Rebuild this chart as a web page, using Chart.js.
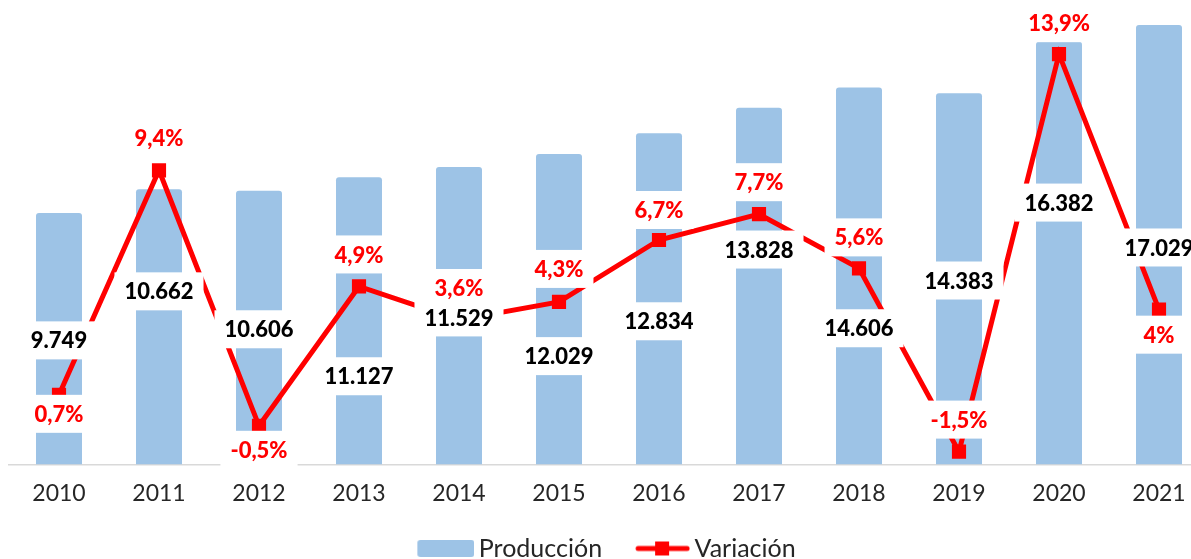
<!DOCTYPE html>
<html>
<head>
<meta charset="utf-8">
<script src="https://cdn.jsdelivr.net/npm/chart.js@4.4.1/dist/chart.umd.min.js"></script>
<style>
  html, body { margin: 0; padding: 0; background: #fff; overflow: hidden; }
  /* canvas is a bit wider than the window: the last category is cut off like in the source */
  #chart { position: absolute; left: 0; top: 0; }
</style>
</head>
<body>
<canvas id="chart" width="1212" height="559"></canvas>
<script>
const years = ['2010', '2011', '2012', '2013', '2014', '2015', '2016', '2017', '2018', '2019', '2020', '2021'];
const produccion = [9749, 10662, 10606, 11127, 11529, 12029, 12834, 13828, 14606, 14383, 16382, 17029];
const variacion = [0.7, 9.4, -0.5, 4.9, 3.6, 4.3, 6.7, 7.7, 5.6, -1.5, 13.9, 4];

// label placement: bar labels in Producción units, line labels as px offset from the point
const barLabelAt = [4810, 6710, 5240, 3420, 5700, 4200, 5550, 8330, 5280, 7130, 10150, 8410];
const lineLabelDy = [19, -32, 24, -32, -32, -33, -30, -32, -31, -32, -31, 25];

const BLUE = '#9DC3E6';
const RED = '#FF0000';
const TEXT = '#262626';

const fmtNum = v => v.toLocaleString('de-DE');
const fmtPct = v => String(v).replace('.', ',') + '%';

function drawBox(ctx, text, x, y, color) {
  const w = ctx.measureText(text).width + 20;
  const h = 38;
  ctx.fillStyle = '#fff';
  ctx.fillRect(x - w / 2, y - h / 2, w, h);
  ctx.fillStyle = color;
  ctx.fillText(text, x, y + 1);
}

const valueBoxes = {
  id: 'valueBoxes',
  beforeDraw(chart) {
    // nudge the legend row left a little
    chart.legend.left -= 18;
    chart.legend.right -= 18;
  },
  afterDatasetsDraw(chart) {
    const ctx = chart.ctx;
    const yLeft = chart.scales.y;
    ctx.save();
    ctx.font = '900 22px Lato';
    ctx.textAlign = 'center';
    ctx.textBaseline = 'middle';
    chart.getDatasetMeta(0).data.forEach((bar, i) => {
      drawBox(ctx, fmtNum(produccion[i]), bar.x, yLeft.getPixelForValue(barLabelAt[i]), '#000');
    });
    chart.getDatasetMeta(1).data.forEach((pt, i) => {
      drawBox(ctx, fmtPct(variacion[i]), pt.x, pt.y + lineLabelDy[i], RED);
    });
    ctx.restore();
  }
};

// legend icons, drawn at the right end of a wider transparent canvas
const ICON_W = 96;
function barIcon() {
  const c = document.createElement('canvas');
  c.width = ICON_W; c.height = 17;
  const g = c.getContext('2d');
  g.fillStyle = BLUE;
  g.beginPath();
  g.roundRect(ICON_W - 57, 0, 57, 17, 3);
  g.fill();
  return c;
}
function lineIcon() {
  const c = document.createElement('canvas');
  c.width = ICON_W; c.height = 16;
  const g = c.getContext('2d');
  const x0 = ICON_W - 55;
  g.strokeStyle = RED;
  g.lineWidth = 5;
  g.lineCap = 'round';
  g.beginPath();
  g.moveTo(x0 + 3, 8);
  g.lineTo(ICON_W - 3, 8);
  g.stroke();
  g.fillStyle = RED;
  g.fillRect(x0 + 20, 1, 14, 14);
  return c;
}
const icons = [barIcon(), lineIcon()];

new Chart(document.getElementById('chart'), {
  data: {
    labels: years,
    datasets: [
      {
        type: 'bar',
        label: 'Producción',
        data: produccion,
        backgroundColor: BLUE,
        barPercentage: 0.46,
        categoryPercentage: 1,
        borderRadius: 3,
        yAxisID: 'y',
        order: 1
      },
      {
        type: 'line',
        label: 'Variación',
        data: variacion,
        borderColor: RED,
        borderWidth: 5,
        pointStyle: 'rect',
        pointRadius: 10,
        pointBackgroundColor: RED,
        pointBorderWidth: 0,
        tension: 0,
        yAxisID: 'y1',
        order: 0
      }
    ]
  },
  options: {
    responsive: false,
    animation: false,
    layout: { autoPadding: false, padding: { left: 9, right: 3, top: 0, bottom: -12 } },
    scales: {
      x: {
        grid: { display: false, drawTicks: false },
        border: { color: '#D9D9D9', width: 1.5 },
        ticks: { color: TEXT, padding: 15, font: { family: 'Lato', size: 23 } },
        afterFit: scale => { scale.height = 71.5; }
      },
      y: { display: false, min: 0, max: 18000 },
      y1: { display: false, min: -2, max: 16 }
    },
    plugins: {
      tooltip: { enabled: false },
      legend: {
        position: 'bottom',
        labels: {
          usePointStyle: true,
          pointStyleWidth: 80,
          padding: 0,
          color: TEXT,
          font: { family: 'Lato', size: 25 },
          generateLabels: chart => chart.data.datasets.map((ds, i) => ({
            text: ds.label,
            pointStyle: icons[i],
            datasetIndex: i,
            hidden: false,
            lineWidth: 0,
            fontColor: TEXT
          }))
        }
      }
    }
  },
  plugins: [valueBoxes]
});
</script>
</body>
</html>
